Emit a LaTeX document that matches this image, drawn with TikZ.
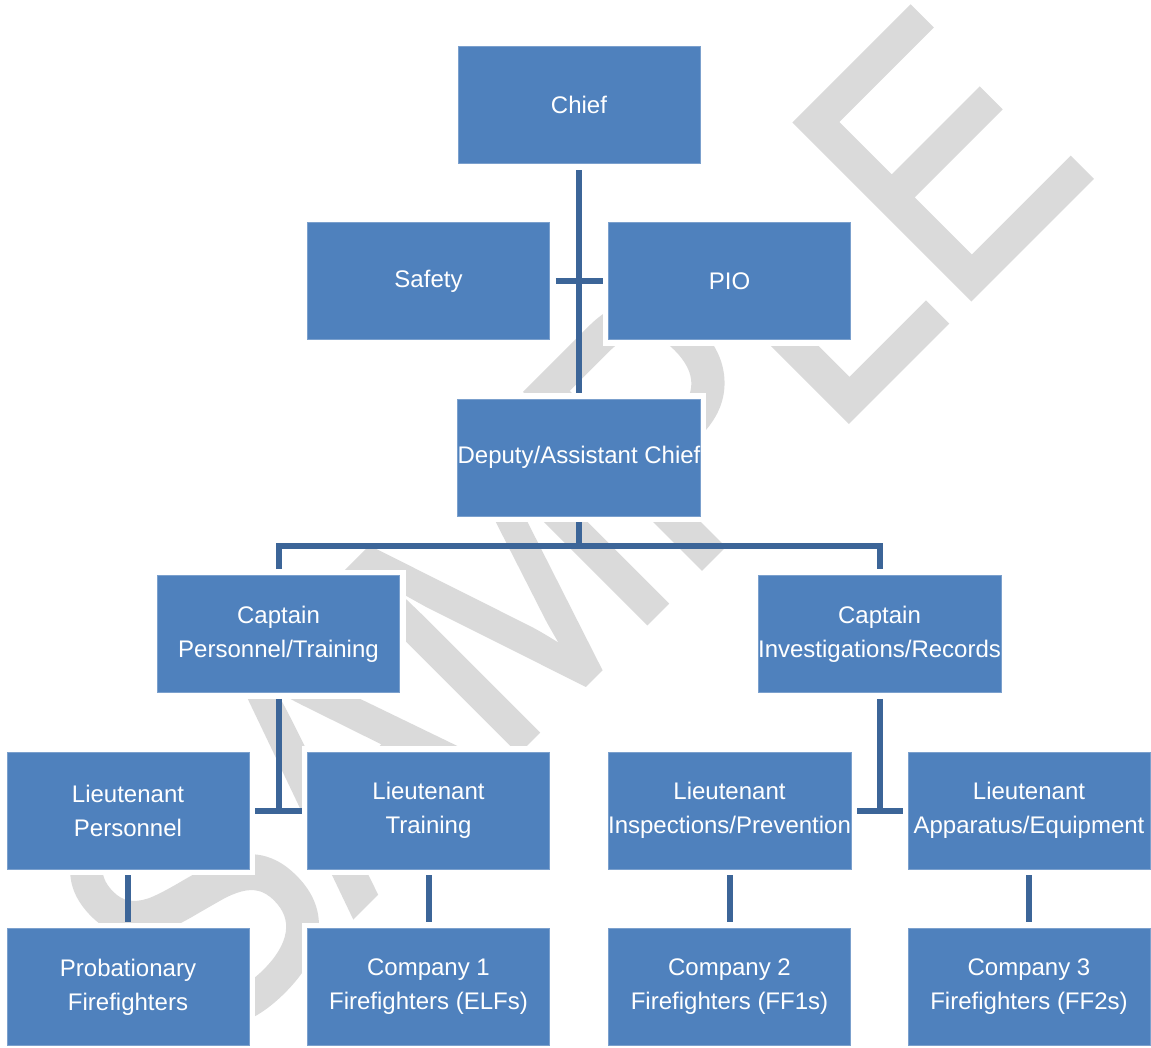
\documentclass[tikz,border=0pt]{standalone}
\usepackage{fontspec}
\setmainfont{Liberation Sans}
\newfontfamily\markfont[FakeBold=1.5]{Liberation Sans}
\usetikzlibrary{calc}
\definecolor{boxblue}{RGB}{79,129,189}
\definecolor{lineblue}{RGB}{60,101,152}
\definecolor{markgray}{RGB}{218,218,218}
\tikzset{
	post/.style={fill=boxblue, draw=boxblue!75!white, line width=0.8pt,
		preaction={draw=white, line width=12pt},
		minimum width=242pt, minimum height=117pt, inner sep=0pt,
		text=white, align=center, font=\fontsize{24}{34}\selectfont},
	link/.style={draw=lineblue, line width=6pt},
}
\begin{document}
\begin{tikzpicture}[x=1pt,y=-1pt]
	\useasboundingbox (0,0) rectangle (1151,1047);
	% watermark
	\node[anchor=base east, rotate=45, xscale=0.865, transform shape, inner sep=0pt,
		text=markgray, font=\markfont\fontsize{360}{360}\selectfont] (mark) at (1100,169) {SAMPLE};
	
	\node[post] (chief) at (579,104.5) {Chief};
	\node[post] (safety) at (428.5,281) {Safety};
	\node[post] (pio) at (729.5,281) {PIO};
	\node[post] (deputy) at (579,457.5) {Deputy/Assistant Chief};
	\node[post] (cappers) at (278.5,634) {Captain\\Personnel/Training};
	\node[post] (capinv) at (879.5,634) {Captain\\Investigations/Records};
	\node[post] (ltpers) at (128,810.5) {Lieutenant\\Personnel};
	\node[post] (lttrain) at (428.5,810.5) {Lieutenant\\Training};
	\node[post] (ltinsp) at (729.5,810.5) {Lieutenant\\Inspections/Prevention};
	\node[post] (ltapp) at (1029,810.5) {Lieutenant\\Apparatus/Equipment};
	\node[post] (probff) at (128,987) {Probationary\\Firefighters};
	\node[post] (comp1) at (428.5,987) {Company 1\\Firefighters (ELFs)};
	\node[post] (comp2) at (729.5,987) {Company 2\\Firefighters (FF1s)};
	\node[post] (comp3) at (1029,987) {Company 3\\Firefighters (FF2s)};
	
	\draw[link] ([yshift=-7pt]chief.south) -- ([yshift=6pt]deputy.north);
	\draw[link] ([xshift=6pt]safety.east) -- ([xshift=-5pt]pio.west);
	
	\coordinate (split) at (579,546);
	\draw[link] ([yshift=-6pt]deputy.south) -- (split);
	\draw[link] ([yshift=6pt]cappers.north) |- (split) -| ([yshift=6pt]capinv.north);
	
	\draw[link] ([yshift=-6pt]cappers.south) -- (cappers.south |- ltpers.east);
	\draw[link] ([xshift=6pt]ltpers.east) -- ([xshift=-5pt]lttrain.west);
	\draw[link] ([yshift=-6pt]capinv.south) -- (capinv.south |- ltinsp.east);
	\draw[link] ([xshift=6pt]ltinsp.east) -- ([xshift=-5pt]ltapp.west);
	
	\foreach \up/\down in {ltpers/probff, lttrain/comp1, ltinsp/comp2, ltapp/comp3}
		\draw[link] ([yshift=-6pt]\up.south) -- ([yshift=6pt]\down.north);
\end{tikzpicture}
\end{document}
